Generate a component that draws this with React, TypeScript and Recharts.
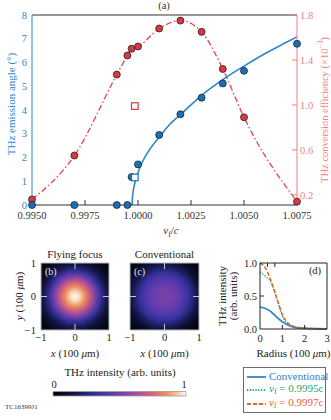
import React from 'react';
import { ComposedChart, Line, XAxis, YAxis, ReferenceArea, Legend } from 'recharts';

const SERIF = '"Liberation Serif", "Times New Roman", serif';
const BLUE = '#2b87d0';
const RED = '#e4434a';
const PINK = '#f07f84';

// (a) emission angle + conversion efficiency vs v_f/c
const speedTicks = [0.995, 0.9975, 1.0, 1.0025, 1.005, 1.0075];
const angleTicks = [0, 1, 2, 3, 4, 5, 6, 7, 8];
const effTicks = [0.2, 0.6, 1.0, 1.4, 1.8];

const measSpeed = [0.995, 0.997, 0.999, 0.9995, 0.9997, 1.0, 1.001, 1.002, 1.003, 1.004, 1.005, 1.0075];
const measAngle = [0, 0, 0, 0, 1.18, 1.71, 2.95, 3.82, 4.52, 5.12, 5.65, 6.79];
const measEff = [0.16, 0.55, 1.27, 1.44, 1.5, 1.52, 1.68, 1.75, 1.65, 1.32, 0.89, 0.14];

const fitSpeed = [0.99972, 0.99974, 0.99977, 0.9998, 0.9999, 1.0, 1.0002, 1.0005, 1.001, 1.0015, 1.002, 1.003, 1.004, 1.005, 1.006, 1.007, 1.0075];
const fitAngle = [0, 0.35, 0.55, 0.72, 1.08, 1.36, 1.8, 2.27, 2.85, 3.4, 3.8, 4.62, 5.28, 5.85, 6.38, 6.85, 7.08];

const convSpeed = [0.99985];
const convAngle = [1.16];
const convEff = [0.99];

// (b), (c) intensity maps: radial profiles
const heatRadius = [0, 0.15, 0.3, 0.45, 0.6, 0.73, 0.87, 1.0, 1.2, 1.414];
const ffIntensity = [1.0, 0.95, 0.84, 0.7, 0.52, 0.37, 0.22, 0.13, 0.06, 0.02];
const convIntensity = [0.52, 0.51, 0.49, 0.45, 0.39, 0.32, 0.22, 0.14, 0.06, 0.02];
const heatTicks = [-1, 0, 1];

// colour scale
const cmapPos = [0, 0.15, 0.3, 0.45, 0.6, 0.73, 0.86, 0.95, 1];
const cmapHex = ['#000000', '#101440', '#2b2e92', '#5b3bb0', '#9a48a0', '#d2607a', '#f2925a', '#f9d2b0', '#ffffff'];

// (d) radial lineouts
const radius = [0, 0.25, 0.5, 0.75, 1.0, 1.25, 1.5, 2.0, 2.5, 3.0];
const convProfile = [0.33, 0.31, 0.26, 0.18, 0.11, 0.06, 0.03, 0.01, 0.004, 0];
const ff9995Profile = [0.86, 0.8, 0.7, 0.46, 0.2, 0.08, 0.035, 0.012, 0.004, 0];
const ff9997Profile = [1.0, 0.92, 0.72, 0.47, 0.22, 0.09, 0.04, 0.014, 0.005, 0];
const radiusTicks = [0, 1, 2, 3];
const intensityTicks = [0, 0.5, 1];

const pts = (xs: number[], ys: number[]) => xs.map((x, i) => ({ x, y: ys[i] }));
const minus = (v: number) => (v < 0 ? `\u2212${-v}` : `${v}`);

function hexToRgb(h: string) {
  return [1, 3, 5].map((i) => parseInt(h.slice(i, i + 2), 16));
}
function colorAt(v: number) {
  let i = 0;
  while (i < cmapPos.length - 2 && v > cmapPos[i + 1]) i++;
  const t = Math.min(1, Math.max(0, (v - cmapPos[i]) / (cmapPos[i + 1] - cmapPos[i])));
  const a = hexToRgb(cmapHex[i]);
  const b = hexToRgb(cmapHex[i + 1]);
  const c = a.map((av, k) => Math.round(av + (b[k] - av) * t));
  return `rgb(${c[0]},${c[1]},${c[2]})`;
}

const circleDot = (fill: string) => (p: any) =>
  <circle key={`c${p.index}`} cx={p.cx} cy={p.cy} r={3.5} fill={fill} stroke="#1d2630" strokeWidth={0.8} />;
const squareDot = (stroke: string) => (p: any) =>
  <rect key={`s${p.index}`} x={p.cx - 3.3} y={p.cy - 3.3} width={6.6} height={6.6} fill="#fff" stroke={stroke} strokeWidth={1.2} />;

// ---------- (a) ticks & labels ----------
function SpeedTick({ x, y, payload, index }: any) {
  const inner = index > 0 && index < speedTicks.length - 1;
  return (
    <g>
      {inner && <line x1={x} x2={x} y1={y} y2={y - 5} stroke="#333" />}
      <text x={x} y={y + 14} textAnchor="middle" fontSize={10.5} fontFamily={SERIF} fill="#333">
        {Number(payload.value).toFixed(4)}
      </text>
    </g>
  );
}
function TopTick({ x, y, index }: any) {
  const inner = index > 0 && index < speedTicks.length - 1;
  return inner ? <line x1={x} x2={x} y1={y} y2={y + 5} stroke="#333" /> : <g />;
}
function AngleTick({ x, y, payload }: any) {
  return (
    <text x={x - 5} y={y} dy="0.35em" textAnchor="end" fontSize={10.5} fontFamily={SERIF} fill={BLUE}>
      {payload.value}
    </text>
  );
}
function EffTick({ x, y, payload }: any) {
  return (
    <g>
      <line x1={x} x2={x - 5} y1={y} y2={y} stroke={PINK} />
      <text x={x + 3} y={y} dy="0.35em" textAnchor="start" fontSize={10.5} fontFamily={SERIF} fill={PINK}>
        {Number(payload.value).toFixed(1)}
      </text>
    </g>
  );
}

function EmissionChart() {
  return (
    <ComposedChart width={331} height={245} margin={{ top: 14, right: 0, bottom: 0, left: 0 }}>
      <XAxis
        dataKey="x" type="number" domain={[0.995, 1.0075]} ticks={speedTicks} interval={0}
        height={40} tickSize={0} tickMargin={0} stroke="#333" tick={SpeedTick}
        label={() => (
          <text x={171} y={234} textAnchor="middle" fontSize={11} fontFamily={SERIF} fill="#333">
            <tspan fontStyle="italic">v</tspan>
            <tspan fontSize={8} dy={3}>f</tspan>
            <tspan dy={-3}>/</tspan>
            <tspan fontStyle="italic">c</tspan>
          </text>
        )}
      />
      <XAxis
        xAxisId="top" type="number" orientation="top" domain={[0.995, 1.0075]} ticks={speedTicks} interval={0}
        height={1} tickSize={0} tickMargin={0} stroke="#333" tick={TopTick}
        label={() => (
          <text x={164} y={9} textAnchor="middle" fontSize={10.5} fontFamily={SERIF} fill="#333">(a)</text>
        )}
      />
      <YAxis
        type="number" domain={[0, 8]} ticks={angleTicks} interval={0} width={32}
        tickSize={0} tickMargin={0} stroke={BLUE} tick={AngleTick}
        label={() => (
          <text transform="translate(11,104) rotate(-90)" textAnchor="middle" dominantBaseline="central"
            fontSize={11} fontFamily={SERIF} fill={BLUE}>
            THz emission angle (°)
          </text>
        )}
      />
      <YAxis
        yAxisId="eff" orientation="right" type="number" domain={[0.11, 1.8]} ticks={effTicks} interval={0}
        width={34} tickSize={0} tickMargin={0} stroke={PINK} tick={EffTick}
        label={() => (
          <text transform="translate(324,110) rotate(-90)" textAnchor="middle" dominantBaseline="central"
            fontSize={10.5} fontFamily={SERIF} fill={PINK}>
            THz conversion efficiency (×10
            <tspan fontSize={7.5} dy={-4}>−3</tspan>
            <tspan dy={4}>)</tspan>
          </text>
        )}
      />
      <Line
        yAxisId="eff" data={pts(measSpeed, measEff)} dataKey="y" type="monotone"
        stroke={RED} strokeWidth={1.3} strokeDasharray="6 2.5 1.5 2.5"
        dot={circleDot('#e0353d')} isAnimationActive={false}
      />
      <Line data={pts(fitSpeed, fitAngle)} dataKey="y" type="monotone" stroke={BLUE} strokeWidth={1.6} dot={false} isAnimationActive={false} />
      <Line data={pts(measSpeed, measAngle)} dataKey="y" stroke="none" dot={circleDot('#1c6fb5')} isAnimationActive={false} />
      <Line data={pts(convSpeed, convAngle)} dataKey="y" stroke="none" dot={squareDot('#1c6fb5')} isAnimationActive={false} />
      <Line yAxisId="eff" data={pts(convSpeed, convEff)} dataKey="y" stroke="none" dot={squareDot('#e0353d')} isAnimationActive={false} />
    </ComposedChart>
  );
}

// ---------- (b), (c) ----------
function HeatTickX({ x, y, payload }: any) {
  return (
    <text x={x} y={y + 11} textAnchor="middle" fontSize={10.5} fontFamily={SERIF} fill="#222">
      {minus(payload.value)}
    </text>
  );
}
function HeatTickY({ x, y, payload }: any) {
  return (
    <text x={x - 5} y={y} dy="0.35em" textAnchor="end" fontSize={10.5} fontFamily={SERIF} fill="#222">
      {minus(payload.value)}
    </text>
  );
}

const heatOverlay = (title: string, letter: string) => (p: any) => {
  const { x, y, width, height } = p.viewBox;
  const cx = x + width / 2;
  const cy = y + height / 2;
  const t = 6;
  return (
    <g>
      <text x={cx} y={y - 5} textAnchor="middle" fontSize={11} fontFamily={SERIF} fill="#222">{title}</text>
      <text x={x + 4} y={y + 12} fontSize={10} fontFamily={SERIF} fill="#e6e6e6">{letter}</text>
      <g stroke="#c8c8c8" strokeWidth={1}>
        <line x1={cx} x2={cx} y1={y} y2={y + t} />
        <line x1={cx} x2={cx} y1={y + height} y2={y + height - t} />
        <line x1={x} x2={x + t} y1={cy} y2={cy} />
        <line x1={x + width} x2={x + width - t} y1={cy} y2={cy} />
      </g>
    </g>
  );
};

const heatExtent = heatTicks.map((t) => ({ x: t, y: t }));

function Heatmap({ gid, intensity, title, letter, showY, width, left, right }: any) {
  return (
    <ComposedChart width={width} height={120} data={heatExtent} margin={{ top: 23, right, bottom: 0, left }}>
      <defs>
        <radialGradient id={gid} cx="0.5" cy="0.5" r="0.7071">
          {heatRadius.map((r, i) => (
            <stop key={i} offset={r / 1.4142} stopColor={colorAt(intensity[i])} />
          ))}
        </radialGradient>
      </defs>
      <XAxis
        type="number" dataKey="x" domain={[-1, 1]} ticks={heatTicks} interval={0} height={30}
        tickSize={0} tickMargin={0} axisLine={false} tick={HeatTickX}
        label={(p: any) => {
          const vb = p.viewBox;
          return (
            <text x={vb.x + vb.width / 2} y={vb.y + 27} textAnchor="middle" fontSize={11} fontFamily={SERIF} fill="#222">
              <tspan fontStyle="italic">x</tspan> (100 <tspan fontStyle="italic">μ</tspan>m)
            </text>
          );
        }}
      />
      <YAxis
        type="number" dataKey="y" domain={[-1, 1]} ticks={heatTicks} interval={0} width={41} hide={!showY}
        tickSize={0} tickMargin={0} axisLine={false} tick={HeatTickY}
        label={() => (
          <text transform="translate(19,56) rotate(-90)" textAnchor="middle" dominantBaseline="central"
            fontSize={11} fontFamily={SERIF} fill="#222">
            <tspan fontStyle="italic">y</tspan> (100 <tspan fontStyle="italic">μ</tspan>m)
          </text>
        )}
      />
      <Line dataKey="y" stroke="none" dot={false} isAnimationActive={false} />
      <ReferenceArea
        x1={-1} x2={1} y1={-1} y2={1} fill={`url(#${gid})`} fillOpacity={1}
        stroke="#b8b8b8" strokeWidth={1} label={heatOverlay(title, letter)}
      />
    </ComposedChart>
  );
}

const cbarExtent = [0, 1].map((v) => ({ x: v, y: v }));

function Colorbar() {
  return (
    <ComposedChart width={200} height={37} data={cbarExtent} margin={{ top: 11.5, right: 14, bottom: 1, left: 53 }}>
      <defs>
        <linearGradient id="cbar" x1="0" x2="1" y1="0" y2="0">
          {cmapPos.map((p, i) => <stop key={i} offset={p} stopColor={cmapHex[i]} />)}
        </linearGradient>
      </defs>
      <XAxis
        dataKey="x" type="number" orientation="top" domain={[0, 1]} ticks={[0, 1]} interval={0} height={20}
        tickSize={0} tickMargin={0} axisLine={false}
        tick={({ x, y, payload }: any) => (
          <text x={payload.value === 0 ? x + 1 : x - 2} y={y - 4} textAnchor="middle" fontSize={10.5} fontFamily={SERIF} fill="#222">
            {payload.value}
          </text>
        )}
        label={() => (
          <text x={120} y={16} textAnchor="middle" fontSize={11} fontFamily={SERIF} fill="#222">
            THz intensity (arb. units)
          </text>
        )}
      />
      <YAxis dataKey="y" type="number" domain={[0, 1]} hide />
      <Line dataKey="y" stroke="none" dot={false} isAnimationActive={false} />
      <ReferenceArea x1={0} x2={1} y1={0} y2={1} fill="url(#cbar)" fillOpacity={1} stroke="#9a9a9a" strokeWidth={0.8} />
    </ComposedChart>
  );
}

// ---------- (d) ----------
const profileRows = radius.map((r, i) => ({
  r,
  conv: convProfile[i],
  v9995: ff9995Profile[i],
  v9997: ff9997Profile[i],
}));
const profileKeys = ['conv', 'v9995', 'v9997'];
const profileSpeeds = ['', '0.9995c', '0.9997c'];
const profileColors = ['#2f82cc', '#1ea574', '#e4632e'];
const profileDash = [undefined, '1.2 1.6', '4 2'];

function RadTick({ x, y, payload, index }: any) {
  const inner = index > 0 && index < radiusTicks.length - 1;
  return (
    <g>
      {inner && <line x1={x} x2={x} y1={y} y2={y - 4} stroke="#222" />}
      <text x={x} y={y + 13} textAnchor="middle" fontSize={10.5} fontFamily={SERIF} fill="#222">{payload.value}</text>
    </g>
  );
}
function IntTick({ x, y, payload, index }: any) {
  const inner = index > 0 && index < intensityTicks.length - 1;
  return (
    <g>
      {inner && <line x1={x} x2={x + 4} y1={y} y2={y} stroke="#222" />}
      <text x={x - 3} y={y} dy="0.35em" textAnchor="end" fontSize={10.5} fontFamily={SERIF} fill="#222">
        {Number(payload.value).toFixed(1)}
      </text>
    </g>
  );
}

function ProfileLegend() {
  return (
    <div style={{
      boxSizing: 'border-box', width: 83, height: 46, border: '1.5px solid #6b6b6b', background: '#fff',
      padding: '2px 0 0 3px', fontFamily: SERIF, fontSize: 11, lineHeight: '13.5px',
    }}>
      {profileKeys.map((k, i) => (
        <div key={k} style={{ display: 'flex', alignItems: 'center', height: 13.5, color: profileColors[i], whiteSpace: 'nowrap' }}>
          <svg width={19} height={6} style={{ flex: 'none' }}>
            <line x1={0} x2={19} y1={3} y2={3} stroke={profileColors[i]} strokeWidth={1.8} strokeDasharray={profileDash[i]} />
          </svg>
          <span style={{ marginLeft: 3 }}>
            {profileSpeeds[i] === '' ? 'Conventional' : (
              <>
                <i>v</i><sub style={{ fontSize: 8, verticalAlign: '-2px' }}>f</sub> = {profileSpeeds[i]}
              </>
            )}
          </span>
        </div>
      ))}
    </div>
  );
}

function ProfileChart() {
  return (
    <ComposedChart width={131} height={170} data={profileRows} margin={{ top: 12, right: 3, bottom: 0, left: 0 }}>
      <XAxis
        dataKey="r" type="number" domain={[0, 3]} ticks={radiusTicks} interval={0} height={91}
        tickSize={0} tickMargin={0} stroke="#222" tick={RadTick}
        label={(p: any) => {
          const vb = p.viewBox;
          return (
            <text x={vb.x + vb.width / 2} y={vb.y + 28} textAnchor="middle" fontSize={11} fontFamily={SERIF} fill="#222">
              Radius  (100 <tspan fontStyle="italic">μ</tspan>m)
            </text>
          );
        }}
      />
      <XAxis
        xAxisId="top" type="number" orientation="top" domain={[0, 3]} ticks={[1, 2]} interval={0} height={1}
        tickSize={0} tickMargin={0} stroke="#222"
        tick={({ x, y }: any) => <line x1={x} x2={x} y1={y} y2={y + 4} stroke="#222" />}
        label={() => (
          <text x={115} y={24} textAnchor="middle" fontSize={10.5} fontFamily={SERIF} fill="#222">(d)</text>
        )}
      />
      <YAxis
        type="number" domain={[0, 1]} ticks={intensityTicks} interval={0} width={60}
        tickSize={0} tickMargin={0} stroke="#222" tick={IntTick}
        label={() => (
          <g fontSize={11} fontFamily={SERIF} fill="#222">
            <text transform="translate(22,46) rotate(-90)" textAnchor="middle" dominantBaseline="central">THz intensity</text>
            <text transform="translate(33,46) rotate(-90)" textAnchor="middle" dominantBaseline="central">(arb. units)</text>
          </g>
        )}
      />
      <YAxis
        yAxisId="right" orientation="right" type="number" domain={[0, 1]} ticks={[0.5]} interval={0} width={1}
        tickSize={0} tickMargin={0} stroke="#222"
        tick={({ x, y }: any) => <line x1={x} x2={x - 4} y1={y} y2={y} stroke="#222" />}
      />
      {profileKeys.map((k, i) => (
        <Line
          key={k} dataKey={k} type="monotone" stroke={profileColors[i]} strokeWidth={i === 0 ? 1.8 : 1.5}
          strokeDasharray={profileDash[i]} dot={false} isAnimationActive={false}
        />
      ))}
      <Legend
        layout="vertical" align="center" verticalAlign="middle"
        wrapperStyle={{ left: 43, top: 117, width: 83, height: 46 }}
        content={() => <ProfileLegend />}
      />
    </ComposedChart>
  );
}

export default function App() {
  return (
    <div style={{ position: 'absolute', left: 0, top: 0, width: 331, height: 420, background: '#fff', overflow: 'hidden' }}>
      <div style={{ position: 'absolute', left: 0, top: 0 }}>
        <EmissionChart />
      </div>
      <div style={{ position: 'absolute', left: 0, top: 240 }}>
        <Heatmap gid="ffmap" intensity={ffIntensity} title="Flying focus" letter="(b)" showY width={115} left={0} right={6} />
      </div>
      <div style={{ position: 'absolute', left: 115, top: 240 }}>
        <Heatmap gid="convmap" intensity={convIntensity} title="Conventional" letter="(c)" showY={false} width={95} left={15} right={11} />
      </div>
      <div style={{ position: 'absolute', left: 0, top: 360 }}>
        <Colorbar />
      </div>
      <div style={{ position: 'absolute', left: 200, top: 250 }}>
        <ProfileChart />
      </div>
      <div style={{ position: 'absolute', left: 5, top: 403, fontFamily: SERIF, fontSize: 7, color: '#333' }}>
        TC16399J1
      </div>
    </div>
  );
}
